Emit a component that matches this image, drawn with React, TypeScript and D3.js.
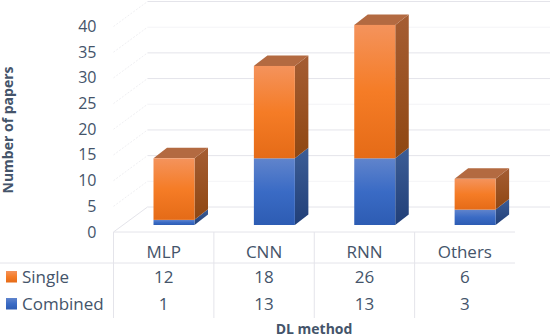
import React, { useEffect, useRef } from "react";
import * as d3 from "d3";

const methods = ["MLP", "CNN", "RNN", "Others"];
const single = [12, 18, 26, 6];
const combined = [1, 13, 13, 3];
const yTicks = [0, 5, 10, 15, 20, 25, 30, 35, 40];
const rows = [
  { key: "Single", values: single, colors: ["#f4935c", "#f57c26", "#e56b17"], side: ["#a55d33", "#8f4712"], top: "#b36a41" },
  { key: "Combined", values: combined, colors: ["#6084cc", "#3a6bc5", "#2d5cb3"], side: ["#3c5d96", "#213f78"], top: "#4a6aa0" },
];

const width = 550, height = 336;
const textColor = "#44546a";
const gridColor = "#e4e4ea";
const font = "'Open Sans', sans-serif";

const App = () => {
  const svgRef = useRef<SVGSVGElement>(null);

  useEffect(() => {
    const svg = d3.select(svgRef.current);
    svg.selectAll("*").remove();

    const tableLeft = 113.5, tableRight = 515, tableTop = 232, headerBottom = 263, tableBottom = 318;
    const wallDx = 34, wallDy = 25; // floor depth of the 3d box
    const barDx = 13.5, barDy = 10.5; // depth of a bar

    const x = d3.scaleBand().domain(methods).range([tableLeft, tableRight]);
    const yAxis = d3.scaleLinear().domain([0, 40]).range([tableTop, 26.5]);
    const yBar = d3.scaleLinear().domain([0, 40]).range([225, 19.8]);

    // gradients, one per series
    const defs = svg.append("defs");
    rows.forEach((r, i) => {
      const front = defs.append("linearGradient").attr("id", `front${i}`).attr("x1", 0).attr("y1", 0).attr("x2", 0).attr("y2", 1);
      r.colors.forEach((c, j) => front.append("stop").attr("offset", j / 2).attr("stop-color", c));
      const side = defs.append("linearGradient").attr("id", `side${i}`).attr("x1", 0).attr("y1", 0).attr("x2", 0).attr("y2", 1);
      r.side.forEach((c, j) => side.append("stop").attr("offset", j).attr("stop-color", c));
    });

    // back wall grid and slanted floor lines
    yTicks.forEach(t => {
      const y0 = yAxis(t);
      svg.append("line")
        .attr("x1", tableLeft + wallDx).attr("x2", width)
        .attr("y1", y0 - wallDy).attr("y2", y0 - wallDy)
        .attr("stroke", gridColor)
        .attr("stroke-opacity", t % 15 === 5 ? 0.45 : 1);
      svg.append("line")
        .attr("x1", tableLeft).attr("x2", tableLeft + wallDx)
        .attr("y1", y0).attr("y2", y0 - wallDy)
        .attr("stroke", gridColor)
        .attr("stroke-opacity", t === 0 ? 1 : 0.6)
        .attr("stroke-dasharray", t === 0 ? null : "2 1.5");
      svg.append("text")
        .attr("x", 96.5).attr("y", y0 + 5.5)
        .attr("text-anchor", "end")
        .attr("font-family", font).attr("font-size", 16)
        .attr("fill", textColor)
        .text(t);
    });

    // stacked bars, bottom series first
    const stacked = d3.stack<number>()
      .keys(["1", "0"])
      .value((d, key) => (+key === 0 ? single[d] : combined[d]))(methods.map((_, i) => i));

    stacked.forEach(layer => {
      const idx = +layer.key;
      const g = svg.append("g");
      layer.forEach((seg, i) => {
        const xL = x(methods[i])! + 40;
        const xR = xL + 41;
        const yT = yBar(seg[1]), yB = yBar(seg[0]);
        g.append("path")
          .attr("d", `M${xR},${yB}L${xR + barDx},${yB - barDy}L${xR + barDx},${yT - barDy}L${xR},${yT}Z`)
          .attr("fill", `url(#side${idx})`);
        if (idx === 0) {
          g.append("path")
            .attr("d", `M${xL},${yT}L${xL + barDx},${yT - barDy}L${xR + barDx},${yT - barDy}L${xR},${yT}Z`)
            .attr("fill", rows[idx].top);
        }
        g.append("rect")
          .attr("x", xL).attr("y", yT)
          .attr("width", xR - xL).attr("height", yB - yT)
          .attr("fill", `url(#front${idx})`);
      });
    });

    // data table lines
    const table = svg.append("g").attr("stroke", gridColor).attr("stroke-width", 1);
    table.append("line").attr("x1", tableLeft).attr("x2", tableRight).attr("y1", tableTop).attr("y2", tableTop);
    table.append("line").attr("x1", 0).attr("x2", tableRight).attr("y1", headerBottom).attr("y2", headerBottom);
    methods.forEach(m => {
      table.append("line").attr("x1", x(m)!).attr("x2", x(m)!).attr("y1", tableTop).attr("y2", tableBottom);
    });

    const label = (tx: number, ty: number, s: string | number, anchor = "middle") =>
      svg.append("text")
        .attr("x", tx).attr("y", ty)
        .attr("text-anchor", anchor)
        .attr("font-family", font).attr("font-size", 17)
        .attr("fill", textColor)
        .text(s);

    methods.forEach(m => label(x(m)! + x.bandwidth() / 2, 258, m));
    rows.forEach((r, i) => {
      const rowY = 283 + i * 27;
      r.values.forEach((v, j) => label(x(methods[j])! + x.bandwidth() / 2, rowY, v));
      label(22, rowY, r.key, "start");
      svg.append("rect")
        .attr("x", 6).attr("y", rowY - 12)
        .attr("width", 11).attr("height", 11.5)
        .attr("fill", `url(#front${i})`);
    });

    // axis titles
    svg.append("text")
      .attr("x", 314).attr("y", 334)
      .attr("text-anchor", "middle")
      .attr("font-family", font).attr("font-size", 14).attr("font-weight", 700)
      .attr("fill", textColor)
      .text("DL method");
    svg.append("text")
      .attr("transform", "translate(13,130) rotate(-90)")
      .attr("text-anchor", "middle")
      .attr("font-family", font).attr("font-size", 14).attr("font-weight", 700)
      .attr("fill", textColor)
      .text("Number of papers");
  }, []);

  return <svg ref={svgRef} width={width} height={height} style={{ position: "absolute", left: 0, top: 0, background: "#fff" }} />;
};

export default App;
